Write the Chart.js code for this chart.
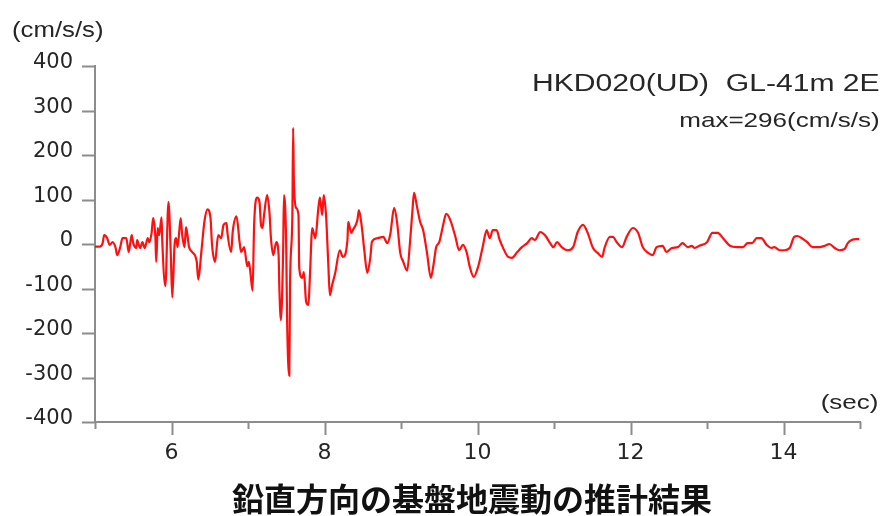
<!DOCTYPE html>
<html>
<head>
<meta charset="utf-8">
<script src="https://cdn.jsdelivr.net/npm/chart.js@4"></script>
<style>
  body { margin: 0; background: #fff; }
  #wrap { position: relative; width: 886px; height: 516px; overflow: hidden; }
  #chart { position: absolute; left: 0; top: 0; }
  .txt { position: absolute; font-family: "Liberation Sans", Arial, sans-serif; color: #262626; line-height: 1; white-space: pre; }
  #unitY { left: 12px; top: 19px; font-size: 22px; transform: scaleX(1.17); transform-origin: left center; }
  #unitX { right: 8px; top: 392px; font-size: 20px; transform: scaleX(1.3); transform-origin: right center; }
  #title { right: 6px; top: 72px; font-size: 23.5px; transform: scaleX(1.28); transform-origin: right center; }
  #maxv { right: 6px; top: 109px; font-size: 21px; transform: scaleX(1.24); transform-origin: right center; }
  #caption { position: absolute; left: 0; width: 944px; text-align: center; top: 481px; font-family: "Noto Sans CJK JP", sans-serif; font-weight: bold; font-size: 32px; line-height: 32px; color: #111; white-space: nowrap; }
</style>
</head>
<body>
<div id="wrap">
  <canvas id="chart" width="886" height="516"></canvas>
  <div class="txt" id="unitY">(cm/s/s)</div>
  <div class="txt" id="unitX">(sec)</div>
  <div class="txt" id="title">HKD020(UD)  GL-41m 2E</div>
  <div class="txt" id="maxv">max=296(cm/s/s)</div>
  <div id="caption">鉛直方向の基盤地震動の推計結果</div>
</div>
<script>
// time (sec) and acceleration (cm/s/s)
const times = [
  5.00, 5.06, 5.10, 5.12, 5.16, 5.19, 5.23, 5.27, 5.29, 5.33, 5.36, 5.41, 5.44, 5.48, 5.50, 5.54, 5.55, 5.59, 5.62, 5.65,
  5.69, 5.71, 5.74, 5.76, 5.79, 5.80, 5.82, 5.84, 5.87, 5.88, 5.92, 5.96, 5.99, 6.01, 6.04, 6.06, 6.08, 6.12, 6.14, 6.17,
  6.19, 6.23, 6.27, 6.33, 6.35, 6.39, 6.43, 6.47, 6.51, 6.53, 6.57, 6.61, 6.65, 6.68, 6.72, 6.73, 6.78, 6.80, 6.85, 6.89,
  6.91, 6.95, 6.99, 7.01, 7.03, 7.06, 7.08, 7.12, 7.15, 7.17, 7.19, 7.21, 7.25, 7.28, 7.30, 7.33, 7.37, 7.40, 7.41, 7.43,
  7.46, 7.47, 7.50, 7.51, 7.54, 7.55, 7.58, 7.59, 7.60, 7.63, 7.66, 7.67, 7.71, 7.73, 7.76, 7.79, 7.81, 7.84, 7.88, 7.92,
  7.94, 7.97, 7.99, 8.02, 8.05, 8.07, 8.10, 8.14, 8.20, 8.24, 8.30, 8.31, 8.35, 8.37, 8.43, 8.45, 8.49, 8.52, 8.56, 8.60,
  8.62, 8.69, 8.77, 8.82, 8.86, 8.91, 8.95, 8.99, 9.03, 9.08, 9.12, 9.15, 9.17, 9.21, 9.25, 9.29, 9.34, 9.39, 9.42, 9.46,
  9.50, 9.55, 9.59, 9.64, 9.71, 9.76, 9.81, 9.86, 9.90, 9.95, 10.01, 10.07, 10.12, 10.16, 10.20, 10.25, 10.29, 10.33, 10.40, 10.45,
  10.52, 10.58, 10.65, 10.71, 10.75, 10.82, 10.88, 10.95, 10.99, 11.04, 11.10, 11.18, 11.25, 11.31, 11.38, 11.44, 11.51, 11.57, 11.63, 11.66,
  11.73, 11.77, 11.82, 11.89, 11.95, 12.03, 12.10, 12.16, 12.23, 12.29, 12.34, 12.42, 12.47, 12.54, 12.62, 12.68, 12.75, 12.80, 12.84, 12.90,
  13.00, 13.07, 13.14, 13.21, 13.30, 13.39, 13.47, 13.53, 13.59, 13.65, 13.71, 13.78, 13.84, 13.88, 13.95, 14.01, 14.08, 14.14, 14.18, 14.24,
  14.31, 14.38, 14.47, 14.54, 14.60, 14.67, 14.73, 14.80, 14.84, 14.89, 14.95, 14.99
];
const accel = [
  -6, -6, 2, 20, 13, -2, 4, -9, -25, -7, 13, 13, -18, 20, 2, -9, 9, -9, 4, -9,
  13, 4, 25, 58, 13, -40, 36, 20, 60, 4, -95, 95, -18, -120, -2, 13, -7, 58, 20, -7,
  38, -7, -18, -40, -80, -18, 50, 78, 58, -2, -40, 20, 13, 43, 47, 27, -18, 27, 62, 4,
  -18, -7, -50, -40, -62, -105, 43, 104, 95, 43, 36, 65, 110, 72, 13, -25, 4, -25, -99, -171,
  -9, 110, -9, -160, -296, -85, 65, 261, 140, 81, 65, -54, -76, -63, -130, -137, -70, 36, 13, 81,
  104, 65, 110, 65, -47, -115, -92, -65, -14, -29, 9, 50, 25, 31, 54, 76, 35, -14, -65, -29,
  5, 13, 16, 2, 22, 81, 47, -20, -40, -60, 9, 76, 115, 83, 50, 31, -20, -76, -52, -7,
  4, 42, 68, 56, 17, -14, -2, -20, -52, -74, -50, -5, 31, 13, 31, 31, 9, -7, -29, -31,
  -18, -7, 2, 13, 9, 27, 20, 2, -7, 4, -7, -14, -7, 27, 43, 25, -9, -20, -29, -9,
  16, 16, 4, -7, 16, 36, 25, -7, -20, -25, -7, -4, -18, -9, -7, 2, -7, -4, -9, -4,
  4, 25, 25, 13, -4, -7, -7, 2, 2, 13, 13, -2, -9, -7, -14, -14, -9, 16, 18, 13,
  4, -7, -7, -4, 0, -9, -14, -11, 2, 9, 11, 11
];

const xTickLabels = [6, 8, 10, 12, 14];
const yTickLabels = [-400, -300, -200, -100, 0, 100, 200, 300, 400];

const axisColor = "#8c8c8c";
const labelColor = "#262626";

// tick marks: long on labelled values, short in between
const tickMarks = {
  id: "tickMarks",
  afterDraw(chart) {
    const { ctx, chartArea, scales } = chart;
    ctx.save();
    ctx.strokeStyle = axisColor;
    ctx.lineWidth = 2;
    scales.x.ticks.forEach(t => {
      const px = Math.round(scales.x.getPixelForValue(t.value)) + 0.5;
      const len = xTickLabels.includes(t.value) ? 13 : 7;
      ctx.beginPath();
      ctx.moveTo(px, chartArea.bottom);
      ctx.lineTo(px, chartArea.bottom + len);
      ctx.stroke();
    });
    scales.y.ticks.forEach(t => {
      const py = Math.round(scales.y.getPixelForValue(t.value)) + 0.5;
      const len = yTickLabels.includes(t.value) ? 13 : 8;
      ctx.beginPath();
      ctx.moveTo(chartArea.left, py);
      ctx.lineTo(chartArea.left - len, py);
      ctx.stroke();
    });
    ctx.restore();
  }
};

new Chart(document.getElementById("chart"), {
  type: "line",
  data: {
    datasets: [{
      data: times.map((t, i) => ({ x: t, y: accel[i] })),
      borderColor: "#ff1010",
      borderWidth: 2.2,
      pointRadius: 0,
      cubicInterpolationMode: "monotone",
      fill: false
    }]
  },
  options: {
    responsive: false,
    animation: false,
    layout: { padding: { top: 66, right: 26, bottom: 44, left: 0 } },
    plugins: { legend: { display: false }, tooltip: { enabled: false } },
    scales: {
      x: {
        type: "linear",
        min: 5,
        max: 15,
        afterFit: s => { s.height = 50; },
        grid: { display: false, drawTicks: false },
        border: { display: true, color: axisColor, width: 2 },
        ticks: {
          stepSize: 1,
          padding: 18,
          color: labelColor,
          font: { family: "DejaVu Sans", size: 22 },
          callback: v => xTickLabels.includes(v) ? String(v) : ""
        }
      },
      y: {
        min: -400,
        max: 400,
        afterFit: s => { s.width = 95; },
        grid: { display: false, drawTicks: false },
        border: { display: true, color: axisColor, width: 2 },
        ticks: {
          stepSize: 50,
          padding: 22,
          labelOffset: -3,
          color: labelColor,
          font: { family: "DejaVu Sans", size: 21 },
          callback: v => yTickLabels.includes(v) ? String(v) : ""
        }
      }
    }
  },
  plugins: [tickMarks]
});
</script>
</body>
</html>
